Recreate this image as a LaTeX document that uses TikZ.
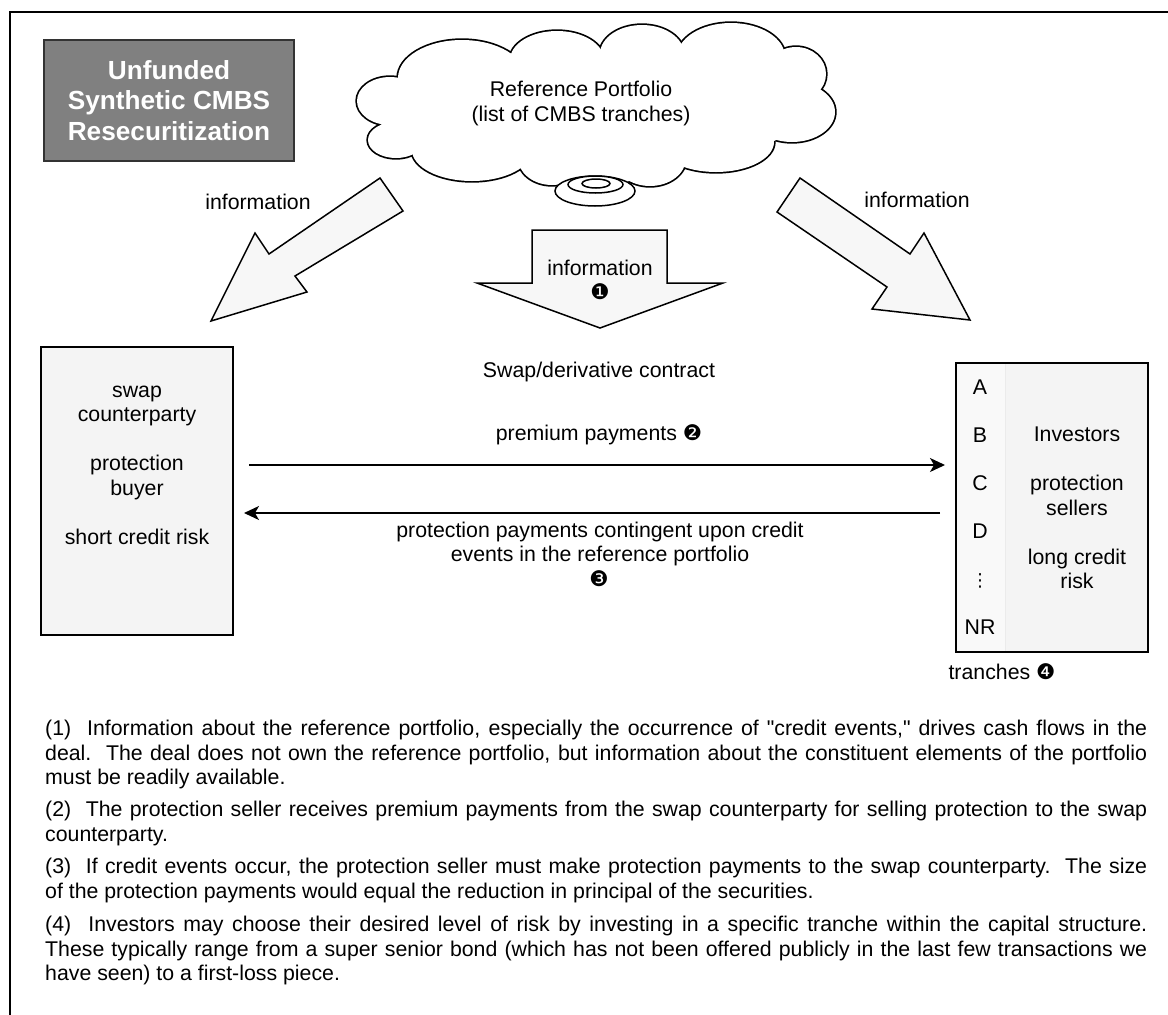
\documentclass[tikz,border=0pt]{standalone}
\usepackage{fontspec}
\setmainfont{Liberation Sans}[Ligatures=TeXOff]
\newfontfamily\dingfont{DejaVu Sans}
\usetikzlibrary{arrows.meta}
\definecolor{titlegray}{HTML}{808080}
\definecolor{boxfill}{HTML}{F4F4F4}
\definecolor{colfill}{HTML}{F9F9F9}
\definecolor{arrowfill}{HTML}{F7F7F7}
\newcommand{\dnum}[1]{{\dingfont\fontsize{21.5}{24}\selectfont #1}}
\begin{document}
\begin{tikzpicture}[x=1pt,y=-1pt,
  lbl/.style={font=\fontsize{21.3}{24.5}\selectfont, inner sep=0pt, align=center,
    execute at begin node=\strut, execute at end node=\strut},
  bigarrow/.style={draw=black, line width=1.5pt, fill=arrowfill, line join=miter},
  party/.style={draw=black, line width=2pt, fill=boxfill, inner sep=0pt},
  flow/.style={line width=1.4pt, -{Stealth[length=15pt,width=14pt,inset=4pt]}},
  note/.style={font=\fontsize{21.3}{24.5}\selectfont, inner sep=0pt, text width=1102pt,
    align=justify, anchor=north west, execute at begin node=\strut},
]
\useasboundingbox (0,0) rectangle (1168,1015);
\fill[white] (0,0) rectangle (1168,1015);
% frame
\draw[line width=2pt] (10,1030) -- (10,12) -- (1185,12);

% title
\node[draw=black!80, line width=2pt, fill=titlegray, minimum width=250pt, minimum height=121pt,
  inner sep=0pt, text=white, font=\bfseries\fontsize{26.2}{30.5}\selectfont, align=center]
  (title) at (169,100.5) {Unfunded\\Synthetic CMBS\\Resecuritization};

% cloud: union of lobes
\foreach \cx/\cy/\rx/\ry in {390/101/33/24, 396/140/28/18, 462/78/64/38, 557/60/47/29,
  642/54/42/29, 731/57/54/34, 796/74/30/27, 792/112/43/30, 716/142/58/30,
  650/158/36/28, 552/158/34/27, 597/168/42/20, 472/150/60/31}
  \draw[line width=3.4pt] (\cx,\cy) ellipse [x radius=\rx pt, y radius=\ry pt];
\foreach \cx/\cy/\rx/\ry in {390/101/33/24, 396/140/28/18, 462/78/64/38, 557/60/47/29,
  642/54/42/29, 731/57/54/34, 796/74/30/27, 792/112/43/30, 716/142/58/30,
  650/158/36/28, 552/158/34/27, 597/168/42/20, 472/150/60/31, 590/110/215/60}
  \fill[white] (\cx,\cy) ellipse [x radius=\rx pt, y radius=\ry pt];
\draw[line width=1.5pt, fill=white] (595,191) ellipse [x radius=40pt, y radius=15pt];
\draw[line width=1.5pt, fill=white] (595.5,184.5) ellipse [x radius=27.5pt, y radius=8.5pt];
\draw[line width=1.5pt] (596,183.5) ellipse [x radius=14pt, y radius=4.5pt];
\node[lbl] (cloudtxt) at (581,105) {Reference Portfolio\\(list of CMBS tranches)};

% information arrows
\draw[bigarrow] (380,178) -- (269,254) -- (255,233) -- (211,321) -- (307,292) -- (295,276) -- (403,211) -- cycle;
\draw[bigarrow] (800,178) -- (910,254) -- (924,233) -- (970,320) -- (872,309) -- (887,287) -- (777,212) -- cycle;
\draw[bigarrow] (532,230) -- (667,230) -- (667,283) -- (723,283) -- (600,328) -- (477,283) -- (532,283) -- cycle;
\node[lbl] (infoL) at (258,205) {information};
\node[lbl] (infoR) at (917,203) {information};
\node[lbl] (infoC) at (600,271) {information};
\node[lbl] (num1) at (600,295) {\dnum{❶}};

% parties
\node[party, minimum width=192pt, minimum height=288pt] (buyer) at (137,491) {};
\node[lbl] (buyertxt) at (137,468.5) {swap\\counterparty\\[24.5pt]protection\\buyer\\[24.5pt]short credit risk};

\node[party, minimum width=192pt, minimum height=289pt] (sellers) at (1052,507.5) {};
\fill[colfill] (957,364) rectangle (1005,651);
\draw[line width=0.8pt, black!8] (1005,364) -- (1005,651);
\node[lbl] (tA) at (980,390) {A};
\node[lbl] (tB) at (980,438) {B};
\node[lbl] (tC) at (980,486) {C};
\node[lbl] (tD) at (980,534) {D};
\node[lbl, font=\dingfont\fontsize{18}{20}\selectfont] (tdots) at (980,582) {⋮};
\node[lbl] (tNR) at (980,630) {NR};
\node[lbl] (sellerstxt) at (1077,511.5) {Investors\\[24.5pt]protection\\sellers\\[24.5pt]long credit\\risk};
\node[lbl] (tranches) at (1002,675) {tranches \dnum{❹}};

% flows
\coordinate (premS) at (249,465);
\coordinate (premE) at (945,465);
\coordinate (protS) at (940,513);
\coordinate (protE) at (244,513);
\draw[flow] (premS) -- (premE);
\draw[flow] (protS) -- (protE);
\node[lbl] (swaplbl) at (599,373) {Swap/derivative contract};
\node[lbl] (premlbl) at (599,436) {premium payments \dnum{❷}};
\node[lbl] (protlbl) at (600,545.5) {protection payments contingent upon credit\\events in the reference portfolio};
\node[lbl] (num3) at (599,582) {\dnum{❸}};

% notes
\node[note] (fn1) at (45,718.4) {(1)\ \ Information about the reference portfolio, especially the occurrence of "credit events," drives cash flows in the\linebreak deal.\ \ The deal does not own the reference portfolio, but information about the constituent elements of the portfolio\linebreak must be readily available.};
\node[note] (fn2) at (45,799.4) {(2)\ \ The protection seller receives premium payments from the swap counterparty for selling protection to the swap\linebreak counterparty.};
\node[note] (fn3) at (45,856.4) {(3)\ \ If credit events occur, the protection seller must make protection payments to the swap counterparty.\ \ The size\linebreak of the protection payments would equal the reduction in principal of the securities.};
\node[note] (fn4) at (45,914.4) {(4)\ \ Investors may choose their desired level of risk by investing in a specific tranche within the capital structure.\linebreak These typically range from a super senior bond (which has not been offered publicly in the last few transactions we\linebreak have seen) to a first-loss piece.};
\end{tikzpicture}
\end{document}
